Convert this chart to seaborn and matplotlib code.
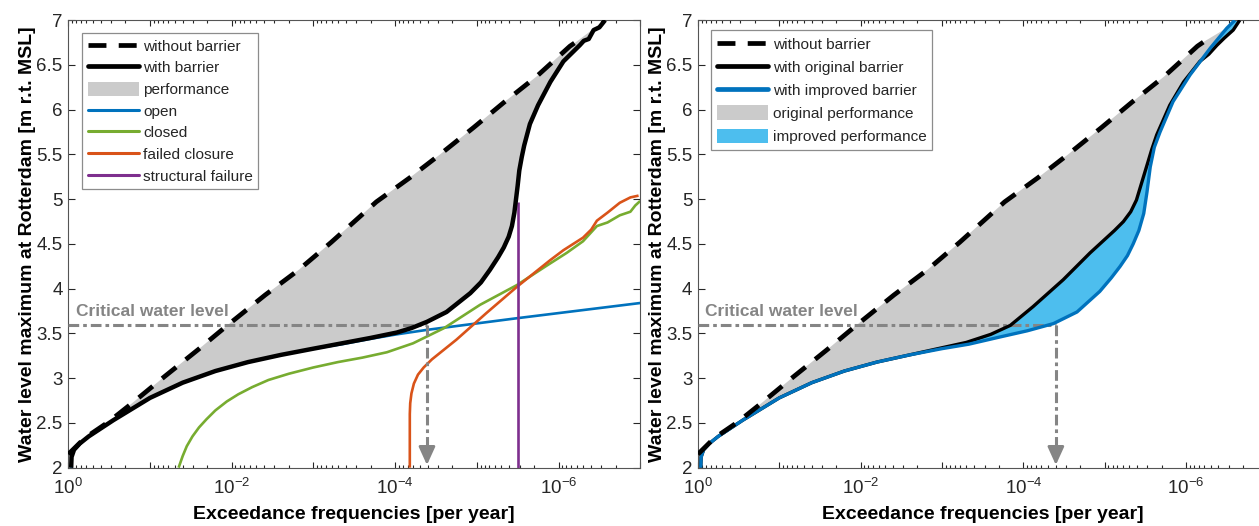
import numpy as np
import matplotlib
matplotlib.use("Agg")
import matplotlib.pyplot as plt
import seaborn as sns
from matplotlib.lines import Line2D
from matplotlib.patches import Patch
from matplotlib.ticker import FixedLocator, FixedFormatter, LogLocator, NullFormatter

# ---------------- data (x = log10 of exceedance frequency [per year], y = water level [m]) ----------------
without_lf = [0.0, -0.2, -0.49, -0.78, -1.18, -1.59, -1.96, -2.41, -2.82, -3.22, -3.77, -4.18,
              -4.55, -4.96, -5.33, -5.73, -6.14, -6.22]
without_wl = [2.15, 2.33, 2.51, 2.72, 3.02, 3.32, 3.60, 3.93, 4.21, 4.52, 4.97, 5.24,
              5.50, 5.80, 6.08, 6.37, 6.71, 6.76]

with_lf = [-0.035, -0.04, -0.07, -0.14, -0.25, -0.55, -1.0, -1.4, -1.8, -2.2, -2.6, -3.0,
           -3.35, -3.7, -4.02, -4.2, -4.39, -4.63, -4.92, -5.05, -5.16, -5.26, -5.33, -5.39,
           -5.43, -5.46, -5.48, -5.50, -5.52, -5.55, -5.58, -5.65, -5.75, -5.90, -6.06, -6.26,
           -6.31, -6.37, -6.43, -6.50, -6.57]
with_wl = [2.0, 2.12, 2.2, 2.27, 2.35, 2.53, 2.78, 2.95, 3.08, 3.18, 3.26, 3.33,
           3.39, 3.45, 3.51, 3.56, 3.63, 3.74, 3.95, 4.07, 4.21, 4.35, 4.46, 4.58,
           4.70, 4.85, 5.0, 5.15, 5.32, 5.47, 5.60, 5.84, 6.05, 6.31, 6.54, 6.72,
           6.77, 6.79, 6.89, 6.92, 7.0]

open_lf = [-0.035, -0.04, -0.07, -0.14, -0.25, -0.55, -1.0, -1.4, -1.8, -2.2, -2.6, -3.0,
           -3.35, -3.7, -4.02, -4.39, -5.49, -7.0]
open_wl = [2.0, 2.12, 2.2, 2.27, 2.35, 2.53, 2.78, 2.95, 3.08, 3.18, 3.26, 3.33,
           3.38, 3.44, 3.49, 3.54, 3.67, 3.84]

closed_lf = [-1.35, -1.40, -1.45, -1.52, -1.60, -1.69, -1.80, -1.94, -2.08, -2.25, -2.45,
             -2.70, -3.0, -3.3, -3.6, -3.9, -4.22, -4.6, -5.04, -5.49, -5.86, -6.10, -6.30,
             -6.47, -6.60, -6.75, -6.88, -6.94, -7.0]
closed_wl = [2.0, 2.13, 2.24, 2.35, 2.45, 2.54, 2.64, 2.74, 2.82, 2.90, 2.98,
             3.05, 3.12, 3.18, 3.23, 3.29, 3.39, 3.56, 3.82, 4.04, 4.26, 4.40, 4.53,
             4.70, 4.74, 4.82, 4.86, 4.93, 4.98]

failed_lf = [-4.18, -4.18, -4.185, -4.20, -4.23, -4.28, -4.35, -4.45, -4.60, -4.75, -5.12,
             -5.49, -5.90, -6.06, -6.30, -6.40, -6.47, -6.60, -6.75, -6.88, -6.98]
failed_wl = [2.0, 2.6, 2.72, 2.83, 2.94, 3.04, 3.12, 3.21, 3.32, 3.43, 3.73,
             4.02, 4.32, 4.43, 4.57, 4.66, 4.76, 4.85, 4.96, 5.02, 5.04]

struct_lf = [-5.50, -5.50]
struct_wl = [2.0, 4.97]

orig_lf = [-0.035, -0.04, -0.07, -0.14, -0.25, -0.55, -1.0, -1.4, -1.8, -2.2, -2.6, -3.0,
           -3.3, -3.6, -3.84, -4.12, -4.49, -4.82, -5.0, -5.12, -5.23, -5.32, -5.39, -5.45,
           -5.52, -5.58, -5.64, -5.80, -5.97, -6.17, -6.28, -6.38, -6.47, -6.58, -6.66]
orig_wl = [2.0, 2.12, 2.2, 2.27, 2.35, 2.53, 2.78, 2.95, 3.08, 3.18, 3.26, 3.34,
           3.40, 3.49, 3.59, 3.80, 4.10, 4.40, 4.55, 4.65, 4.75, 4.86, 4.99, 5.17,
           5.38, 5.56, 5.72, 6.05, 6.31, 6.54, 6.62, 6.72, 6.80, 6.89, 7.0]

impr_lf = [-0.035, -0.04, -0.07, -0.14, -0.25, -0.55, -1.0, -1.4, -1.8, -2.2, -2.6, -3.0,
           -3.33, -3.71, -4.05, -4.37, -4.66, -4.94, -5.08, -5.19, -5.28, -5.35, -5.42,
           -5.48, -5.52, -5.56, -5.61, -5.68, -5.84, -6.05, -6.30, -6.50, -6.60]
impr_wl = [2.0, 2.12, 2.2, 2.27, 2.35, 2.53, 2.78, 2.95, 3.08, 3.18, 3.26, 3.33,
           3.38, 3.46, 3.53, 3.61, 3.74, 3.97, 4.12, 4.25, 4.37, 4.50, 4.65,
           4.84, 5.08, 5.36, 5.58, 5.75, 6.09, 6.39, 6.69, 6.91, 7.0]

critical_level = 3.59
critical_lf_left = -4.39
critical_lf_right = -4.40

x_tick_exponents = [0, -1, -2, -3, -4, -5, -6, -7]
x_label_exponents = [0, -2, -4, -6]
y_ticks = [2, 2.5, 3, 3.5, 4, 4.5, 5, 5.5, 6, 6.5, 7]
y_tick_labels = ["2", "2.5", "3", "3.5", "4", "4.5", "5", "5.5", "6", "6.5", "7"]

legend_left = ["without barrier", "with barrier", "performance", "open", "closed",
               "failed closure", "structural failure"]
legend_right = ["without barrier", "with original barrier", "with improved barrier",
                "original performance", "improved performance"]

# ---------------- style ----------------
sns.set_theme(style="ticks")
plt.rcParams["font.family"] = ["Liberation Sans", "DejaVu Sans"]
plt.rcParams["mathtext.default"] = "regular"
plt.rcParams["axes.unicode_minus"] = False

C_BLUE = "#0072BD"
C_GREEN = "#77AC30"
C_ORANGE = "#D95319"
C_PURPLE = "#7E2F8E"
C_LIGHTBLUE = "#4DBEEE"
C_FILL = "#cbcbcb"
C_CRIT = "#858585"
TXT = "#262626"
DASH = (0, (3.8, 2.6))
DASHDOT = (0, (3.5, 1.3, 1.2, 1.3))

W, H = 1259, 526
fig = plt.figure(figsize=(W / 100, H / 100), dpi=100)
fig.patch.set_facecolor("white")
bottom = 1 - 467.7 / H
height = (467.7 - 20.2) / H
ax1 = fig.add_axes([68.3 / W, bottom, (640.2 - 68.3) / W, height])
ax2 = fig.add_axes([697.9 / W, bottom, (1267.4 - 697.9) / W, height])


def f(lf):
    return 10.0 ** np.asarray(lf, dtype=float)


def line(ax, lf, wl, color, lw, ls="-", z=3):
    sns.lineplot(x=f(lf), y=np.asarray(wl, dtype=float), ax=ax, color=color, linewidth=lw,
                 linestyle=ls, sort=False, estimator=None, zorder=z,
                 dash_capstyle="butt", solid_joinstyle="round", solid_capstyle="butt")


def setup(ax):
    ax.set_xscale("log")
    ax.set_xlim(1, 1e-7)
    ax.set_ylim(2, 7)
    ax.xaxis.set_major_locator(FixedLocator([10.0 ** e for e in x_tick_exponents]))
    labels = [("$10^{%d}$" % e) if e in x_label_exponents else "" for e in x_tick_exponents]
    ax.xaxis.set_major_formatter(FixedFormatter(labels))
    ax.xaxis.set_minor_locator(LogLocator(base=10, subs=np.arange(2, 10), numticks=30))
    ax.xaxis.set_minor_formatter(NullFormatter())
    ax.set_yticks(y_ticks)
    ax.set_yticklabels(y_tick_labels)
    ax.tick_params(which="both", direction="in", top=True, right=True, colors=TXT,
                   labelsize=13.5, width=0.8)
    ax.tick_params(axis="x", which="major", length=4.5, pad=7)
    ax.tick_params(axis="x", which="minor", length=2.2)
    ax.tick_params(axis="y", which="major", length=5, pad=4)
    for s in ax.spines.values():
        s.set_color("#555555")
        s.set_linewidth(0.8)
    ax.set_xlabel("Exceedance frequencies [per year]", fontsize=14, fontweight="bold",
                  color="black", labelpad=6)
    ax.set_ylabel("Water level maximum at Rotterdam [m r.t. MSL]", fontsize=14,
                  fontweight="bold", color="black", labelpad=0)
    ax.set_facecolor("white")


def critical(ax, lf_end):
    x_end = 10.0 ** lf_end
    ax.plot([1, x_end], [critical_level, critical_level], color=C_CRIT, lw=2.2,
            linestyle=DASHDOT, dash_capstyle="butt", zorder=3.5)
    ax.plot([x_end, x_end], [critical_level, 2.1], color=C_CRIT, lw=2.2,
            linestyle=DASHDOT, dash_capstyle="butt", zorder=3.5)
    ax.annotate("", xy=(x_end, 2.03), xytext=(x_end, 2.16),
                arrowprops=dict(arrowstyle="-|>,head_length=0.55,head_width=0.25",
                                color=C_CRIT, lw=2.0, mutation_scale=20, shrinkA=0, shrinkB=0),
                zorder=3.5)
    ax.text(10 ** -0.09, 3.69, "Critical water level", color=C_CRIT, fontsize=12.5,
            fontweight="bold", ha="left", va="baseline", zorder=6)


# ---------------- left panel ----------------
setup(ax1)
ax1.fill(np.r_[f(without_lf), f(with_lf)[::-1]], np.r_[without_wl, with_wl[::-1]],
         color=C_FILL, lw=0, zorder=1)
line(ax1, open_lf, open_wl, C_BLUE, 1.9, z=3)
line(ax1, closed_lf, closed_wl, C_GREEN, 1.9, z=3)
line(ax1, failed_lf, failed_wl, C_ORANGE, 1.9, z=3)
line(ax1, struct_lf, struct_wl, C_PURPLE, 1.9, z=3.2)
critical(ax1, critical_lf_left)
line(ax1, with_lf, with_wl, "black", 3.2, z=4)
line(ax1, without_lf, without_wl, "black", 3.4, ls=DASH, z=5)

h1 = [Line2D([], [], color="black", lw=3.4, linestyle=DASH, dash_capstyle="butt"),
      Line2D([], [], color="black", lw=3.4),
      Patch(facecolor=C_FILL, edgecolor="none"),
      Line2D([], [], color=C_BLUE, lw=2.2),
      Line2D([], [], color=C_GREEN, lw=2.2),
      Line2D([], [], color=C_ORANGE, lw=2.2),
      Line2D([], [], color=C_PURPLE, lw=2.2)]
leg1 = ax1.legend(h1, legend_left, loc="upper left", bbox_to_anchor=(14 / 572, 1 - 13 / 447.5),
                  borderaxespad=0, fontsize=11.1, frameon=True, fancybox=False,
                  handlelength=3.3, handleheight=1.0, handletextpad=0.3, labelspacing=0.42,
                  borderpad=0.35, edgecolor="#8c8c8c", framealpha=1)
leg1.get_frame().set_linewidth(0.9)
for t in leg1.get_texts():
    t.set_color(TXT)
leg1.set_zorder(10)

# ---------------- right panel ----------------
setup(ax2)
ax2.fill(np.r_[f(without_lf), f(orig_lf)[::-1]], np.r_[without_wl, orig_wl[::-1]],
         color=C_FILL, lw=0, zorder=1)
ax2.fill(np.r_[f(orig_lf), f(impr_lf)[::-1]], np.r_[orig_wl, impr_wl[::-1]],
         color=C_LIGHTBLUE, lw=0, zorder=1.1)
critical(ax2, critical_lf_right)
line(ax2, orig_lf, orig_wl, "black", 2.4, z=4)
line(ax2, impr_lf, impr_wl, C_BLUE, 2.4, z=4.5)
line(ax2, without_lf, without_wl, "black", 3.4, ls=DASH, z=5)

h2 = [Line2D([], [], color="black", lw=3.4, linestyle=DASH, dash_capstyle="butt"),
      Line2D([], [], color="black", lw=3.4),
      Line2D([], [], color=C_BLUE, lw=3.4),
      Patch(facecolor=C_FILL, edgecolor="none"),
      Patch(facecolor=C_LIGHTBLUE, edgecolor="none")]
leg2 = ax2.legend(h2, legend_right, loc="upper left", bbox_to_anchor=(13 / 569.5, 1 - 10 / 447.5),
                  borderaxespad=0, fontsize=11.1, frameon=True, fancybox=False,
                  handlelength=3.3, handleheight=1.1, handletextpad=0.3, labelspacing=0.48,
                  borderpad=0.4, edgecolor="#8c8c8c", framealpha=1)
leg2.get_frame().set_linewidth(0.9)
for t in leg2.get_texts():
    t.set_color(TXT)
leg2.set_zorder(10)

fig.savefig("out.png", dpi=100)
